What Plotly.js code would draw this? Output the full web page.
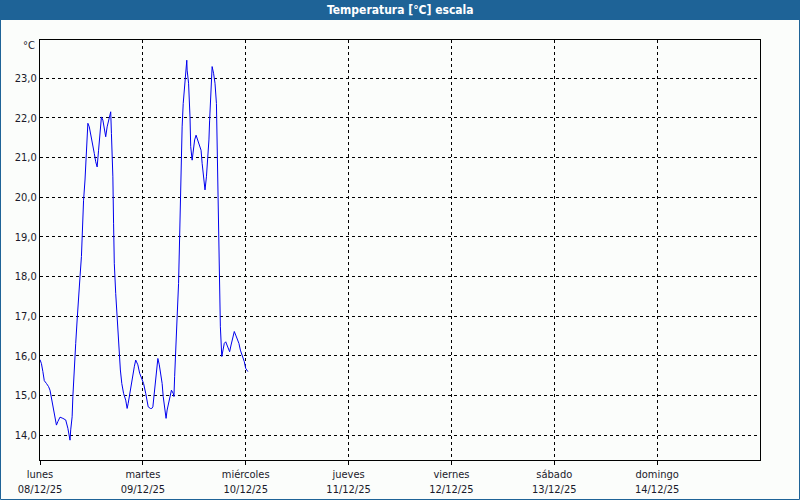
<!DOCTYPE html>
<html>
<head>
<meta charset="utf-8">
<script src="https://cdn.plot.ly/plotly-3.0.1.min.js"></script>
<style>
html,body{margin:0;padding:0;background:#fbfdfb;}
#chart{width:800px;height:500px;}
</style>
</head>
<body>
<div id="chart"></div>
<script>
// ---- data ----
const times = [
"2025-12-08 00:00","2025-12-08 00:20","2025-12-08 00:40","2025-12-08 01:00","2025-12-08 01:30",
"2025-12-08 02:00","2025-12-08 02:20","2025-12-08 02:40","2025-12-08 03:00","2025-12-08 03:20",
"2025-12-08 03:30","2025-12-08 03:50","2025-12-08 04:10","2025-12-08 04:40","2025-12-08 05:20",
"2025-12-08 06:00","2025-12-08 06:30","2025-12-08 06:50","2025-12-08 07:00","2025-12-08 07:10",
"2025-12-08 07:30","2025-12-08 07:40","2025-12-08 08:00","2025-12-08 08:20","2025-12-08 08:40",
"2025-12-08 09:00","2025-12-08 09:20","2025-12-08 09:40","2025-12-08 09:50","2025-12-08 10:10",
"2025-12-08 10:30","2025-12-08 10:50","2025-12-08 11:10","2025-12-08 11:30","2025-12-08 11:50",
"2025-12-08 12:20","2025-12-08 12:40","2025-12-08 13:00","2025-12-08 13:20","2025-12-08 13:40",
"2025-12-08 14:00","2025-12-08 14:20","2025-12-08 14:40","2025-12-08 15:00","2025-12-08 15:20",
"2025-12-08 15:40","2025-12-08 16:00","2025-12-08 16:10","2025-12-08 16:30","2025-12-08 16:40",
"2025-12-08 17:00","2025-12-08 17:10","2025-12-08 17:20","2025-12-08 17:40","2025-12-08 18:00",
"2025-12-08 18:10","2025-12-08 18:30","2025-12-08 18:45","2025-12-08 19:05","2025-12-08 19:30",
"2025-12-08 20:00","2025-12-08 20:20","2025-12-08 20:35","2025-12-08 21:05","2025-12-08 21:30",
"2025-12-08 22:00","2025-12-08 22:20","2025-12-08 22:50","2025-12-08 23:15","2025-12-08 23:45",
"2025-12-09 00:10","2025-12-09 00:40","2025-12-09 01:00","2025-12-09 01:15","2025-12-09 01:45",
"2025-12-09 02:05","2025-12-09 02:20","2025-12-09 02:40","2025-12-09 02:55","2025-12-09 03:15",
"2025-12-09 03:30","2025-12-09 03:50","2025-12-09 04:10","2025-12-09 04:30","2025-12-09 04:45",
"2025-12-09 05:05","2025-12-09 05:25","2025-12-09 05:40","2025-12-09 06:00","2025-12-09 06:20",
"2025-12-09 06:40","2025-12-09 07:05","2025-12-09 07:15","2025-12-09 07:25","2025-12-09 07:45",
"2025-12-09 08:00","2025-12-09 08:20","2025-12-09 08:30","2025-12-09 08:40","2025-12-09 09:00",
"2025-12-09 09:10","2025-12-09 09:25","2025-12-09 09:45","2025-12-09 10:05","2025-12-09 10:15",
"2025-12-09 10:20","2025-12-09 10:40","2025-12-09 11:00","2025-12-09 11:10","2025-12-09 11:30",
"2025-12-09 11:45","2025-12-09 12:05","2025-12-09 12:25","2025-12-09 12:40","2025-12-09 13:00",
"2025-12-09 13:20","2025-12-09 13:35","2025-12-09 13:50","2025-12-09 14:10","2025-12-09 14:30",
"2025-12-09 14:50","2025-12-09 15:10","2025-12-09 15:25","2025-12-09 15:35","2025-12-09 15:45",
"2025-12-09 15:55","2025-12-09 16:10","2025-12-09 16:30","2025-12-09 16:50","2025-12-09 17:10",
"2025-12-09 17:20","2025-12-09 17:35","2025-12-09 17:55","2025-12-09 18:05","2025-12-09 18:25",
"2025-12-09 18:40","2025-12-09 19:00","2025-12-09 19:20","2025-12-09 19:40","2025-12-09 19:55",
"2025-12-09 20:15","2025-12-09 20:35","2025-12-09 21:00","2025-12-09 21:20","2025-12-09 21:40",
"2025-12-09 22:00","2025-12-09 22:25","2025-12-09 22:45","2025-12-09 23:10","2025-12-09 23:40",
"2025-12-10 00:00","2025-12-10 00:15","2025-12-10 00:30"
];
const temps = [
15.90,15.80,15.60,15.37,15.30,
15.22,15.13,14.92,14.73,14.55,
14.38,14.25,14.34,14.45,14.42,
14.38,14.17,14.00,13.87,14.13,
14.46,14.97,15.80,16.31,16.90,
17.57,17.99,18.50,19.08,19.92,
20.43,21.18,21.86,21.77,21.60,
21.35,21.10,20.89,20.76,21.18,
21.60,22.02,21.94,21.77,21.52,
21.77,21.94,22.07,22.15,21.60,
20.51,19.34,18.33,17.57,16.98,
16.48,15.98,15.64,15.30,15.05,
14.88,14.67,14.80,15.13,15.47,
15.72,15.89,15.77,15.56,15.39,
15.30,15.05,14.88,14.71,14.67,
14.67,14.71,15.05,15.39,15.81,
15.93,15.77,15.56,15.30,14.97,
14.63,14.42,14.63,14.80,15.05,
15.13,15.05,14.97,15.47,16.14,
16.98,17.82,18.66,19.67,20.76,
21.77,22.36,22.87,23.20,23.45,
23.20,22.87,22.02,21.27,20.93,
21.18,21.44,21.56,21.48,21.40,
21.31,21.18,20.85,20.51,20.18,
20.51,20.93,21.44,21.94,22.45,
23.03,23.29,23.12,22.87,22.36,
21.44,19.92,18.33,16.73,15.98,
16.14,16.31,16.35,16.27,16.19,
16.10,16.27,16.44,16.61,16.52,
16.44,16.31,16.14,16.02,15.85,
15.68,15.64,15.60,15.55,15.53
];
const dayTicks = ["2025-12-08","2025-12-09","2025-12-10","2025-12-11","2025-12-12","2025-12-13","2025-12-14"];
const dayNames = ["lunes","martes","miércoles","jueves","viernes","sábado","domingo"];
const dayLabels = ["08/12/25","09/12/25","10/12/25","11/12/25","12/12/25","13/12/25","14/12/25"];
const yTicks = [14,15,16,17,18,19,20,21,22,23];
const chartTitle = "Temperatura [°C] escala";
const unitLabel = "°C";

// ---- chart ----
const font = "DejaVu Sans Condensed, Tahoma, sans-serif";
const W = 800, H = 500, ml = 40, mr = 40, mt = 40, mb = 40;
const pw = W - ml - mr, ph = H - mt - mb;
const px = v => (v - ml) / pw;          // pixel x -> paper
const py = v => (H - mb - v) / ph;      // pixel y -> paper
const frame = "#1e6397";

const trace = {
  x: times, y: temps, type: "scatter", mode: "lines",
  line: {color: "#0000ee", width: 1}, hoverinfo: "x+y"
};

const layout = {
  width: W, height: H,
  margin: {l: ml, r: mr, t: mt, b: mb, pad: 0},
  paper_bgcolor: "#fbfdfb", plot_bgcolor: "#fbfdfb",
  separators: ",.",
  showlegend: false,
  font: {family: font, size: 11, color: "#1a1a2a"},
  xaxis: {
    type: "date", range: ["2025-12-08", "2025-12-15"],
    tickmode: "array", tickvals: dayTicks,
    ticktext: dayNames.map((d, i) => d + "<br>" + dayLabels[i]),
    ticks: "outside", ticklen: 4, tickcolor: "#000",
    showgrid: true, gridcolor: "#000", gridwidth: 1, griddash: "3px,3px",
    showline: true, linecolor: "#000", linewidth: 1, mirror: true,
    zeroline: false, tickfont: {family: font, size: 11, color: "#1a1a2a"}
  },
  yaxis: {
    range: [13.37, 23.96],
    tickmode: "array", tickvals: yTicks, tickformat: ".1f",
    ticks: "", showgrid: true, gridcolor: "#000", gridwidth: 1, griddash: "3px,3px",
    showline: true, linecolor: "#000", linewidth: 1, mirror: true,
    zeroline: false, tickfont: {family: font, size: 11, color: "#1a1a2a"}
  },
  shapes: [
    {type: "rect", xref: "paper", yref: "paper", x0: px(0), x1: px(800), y0: py(20), y1: py(0),
     fillcolor: frame, line: {width: 0}, layer: "above"},
    {type: "rect", xref: "paper", yref: "paper", x0: px(0.5), x1: px(799.5), y0: py(499.5), y1: py(0.5),
     fillcolor: "rgba(0,0,0,0)", line: {color: frame, width: 1}, layer: "above"}
  ],
  annotations: [
    {text: "<b>" + chartTitle + "</b>", xref: "paper", yref: "paper", x: px(400), y: py(10),
     xanchor: "center", yanchor: "middle", showarrow: false,
     font: {family: font, size: 12, color: "#ffffff"}},
    {text: unitLabel, xref: "paper", yref: "paper", x: px(37), y: py(46),
     xanchor: "right", yanchor: "middle", showarrow: false,
     font: {family: font, size: 11, color: "#1a1a2a"}}
  ]
};

Plotly.newPlot("chart", [trace], layout, {displayModeBar: false, staticPlot: true});
</script>
</body>
</html>
